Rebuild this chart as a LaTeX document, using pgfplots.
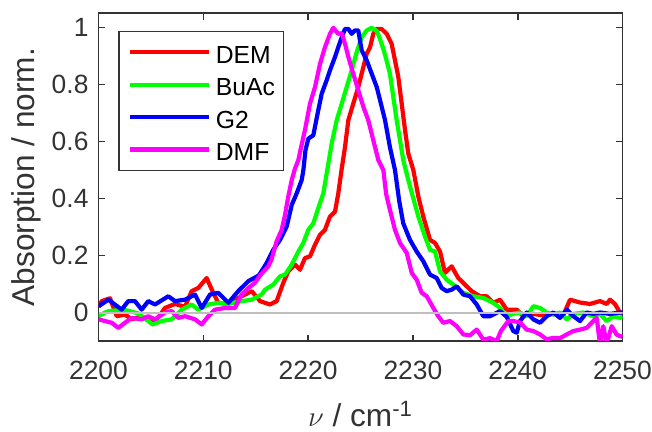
\documentclass[border=0pt]{standalone}
\usepackage{fontspec}
\setmainfont{Liberation Sans}
\usepackage{pgfplots}
\pgfplotsset{compat=1.18}
\usepackage{pgfplotstable}

\pgfplotstableread{
x y
2200.00 0.020
2200.31 0.040
2201.10 0.050
2201.74 -0.013
2202.53 -0.007
2203.17 -0.024
2204.12 -0.013
2205.08 -0.036
2205.71 -0.017
2206.35 0.016
2207.30 0.030
2208.25 0.020
2208.89 0.075
2209.52 0.086
2210.32 0.121
2210.95 0.069
2211.43 0.034
2212.39 0.030
2213.02 0.045
2213.66 0.057
2214.62 0.075
2215.41 0.040
2216.36 0.028
2217.00 0.040
2217.63 0.104
2218.11 0.144
2218.75 0.168
2219.23 0.150
2219.70 0.191
2220.18 0.197
2220.66 0.238
2221.14 0.273
2221.61 0.290
2222.09 0.337
2222.57 0.354
2222.88 0.418
2223.21 0.505
2223.52 0.580
2223.84 0.675
2224.31 0.733
2224.79 0.791
2225.27 0.861
2225.59 0.908
2225.91 0.931
2226.22 0.978
2226.55 0.995
2227.02 0.995
2227.50 0.978
2227.97 0.943
2228.29 0.885
2228.61 0.826
2228.93 0.733
2229.25 0.640
2229.56 0.558
2230.04 0.500
2230.52 0.407
2230.99 0.337
2231.63 0.255
2232.11 0.244
2232.59 0.214
2233.06 0.139
2233.70 0.162
2234.33 0.121
2234.97 0.098
2235.61 0.075
2236.40 0.057
2237.04 0.057
2237.67 0.034
2238.31 0.045
2238.95 0.010
2239.91 0.010
2240.53 -0.013
2241.49 -0.005
2242.44 -0.010
2243.40 -0.005
2244.35 -0.010
2244.99 0.045
2245.95 0.035
2246.90 0.030
2247.85 0.040
2248.49 0.030
2248.81 0.045
2249.28 0.030
2249.75 0.000
2250.00 -0.005
}\dem

\pgfplotstableread{
x y
2200.00 -0.013
2200.62 0.000
2200.99 0.005
2202.40 0.010
2203.77 -0.003
2205.17 -0.042
2206.03 -0.030
2206.98 -0.024
2207.94 0.010
2208.89 0.028
2209.52 0.010
2210.48 0.028
2211.43 0.034
2212.39 0.030
2213.66 0.040
2214.62 0.045
2215.57 0.063
2215.89 0.080
2216.68 0.098
2217.32 0.127
2217.80 0.133
2218.44 0.168
2219.07 0.214
2219.54 0.244
2220.02 0.290
2220.50 0.313
2220.97 0.366
2221.45 0.418
2221.85 0.505
2222.25 0.593
2222.73 0.675
2223.21 0.733
2223.68 0.791
2224.16 0.850
2224.64 0.914
2225.11 0.966
2225.59 0.990
2226.07 0.999
2226.55 0.988
2226.86 0.960
2227.18 0.925
2227.40 0.897
2227.81 0.838
2228.13 0.756
2228.45 0.675
2228.77 0.605
2229.08 0.535
2229.56 0.465
2229.89 0.420
2230.52 0.337
2231.15 0.267
2231.63 0.220
2232.11 0.214
2232.59 0.144
2233.22 0.115
2233.85 0.098
2234.81 0.069
2235.76 0.057
2236.72 0.051
2237.67 0.034
2238.31 0.016
2238.95 -0.015
2239.50 -0.005
2240.22 0.000
2240.86 -0.013
2241.49 0.022
2242.13 0.016
2242.77 0.000
2243.40 -0.007
2244.04 0.000
2244.68 -0.024
2245.31 -0.005
2246.26 0.000
2247.21 -0.013
2247.85 -0.005
2248.49 -0.030
2249.12 -0.013
2249.75 -0.019
2250.00 -0.015
}\buac

\pgfplotstableread{
x y
2200.00 0.022
2200.94 0.045
2201.57 0.028
2202.21 0.010
2202.84 0.040
2203.48 0.040
2204.12 0.010
2204.75 0.040
2205.39 0.028
2206.66 0.057
2207.30 0.040
2208.25 0.045
2209.21 0.063
2209.85 0.016
2210.64 0.063
2211.43 0.069
2212.39 0.034
2213.34 0.075
2214.30 0.110
2215.30 0.130
2216.05 0.174
2216.68 0.220
2217.32 0.255
2217.96 0.302
2218.44 0.378
2218.91 0.418
2219.39 0.465
2219.55 0.500
2219.75 0.570
2220.02 0.610
2220.50 0.622
2220.97 0.710
2221.30 0.768
2221.77 0.815
2222.09 0.850
2222.57 0.897
2222.88 0.931
2223.21 0.966
2223.52 0.995
2223.84 0.995
2224.16 0.978
2224.48 0.990
2224.79 0.990
2225.11 0.920
2225.59 0.885
2226.07 0.838
2226.55 0.791
2226.90 0.740
2227.34 0.675
2227.81 0.580
2228.29 0.500
2228.70 0.390
2229.08 0.313
2229.72 0.255
2230.36 0.214
2230.99 0.180
2231.63 0.133
2232.27 0.121
2232.75 0.086
2233.22 0.075
2233.70 0.080
2234.18 0.092
2234.81 0.063
2235.45 0.057
2236.09 0.028
2236.72 -0.013
2237.36 -0.013
2238.31 0.005
2238.95 -0.015
2239.58 -0.065
2239.91 -0.071
2240.22 -0.030
2240.86 0.000
2241.49 -0.024
2242.13 -0.036
2242.77 -0.013
2243.40 0.000
2244.04 -0.019
2244.68 0.010
2245.31 -0.013
2245.95 -0.030
2246.58 0.000
2247.21 -0.005
2247.85 0.000
2248.81 -0.005
2249.75 0.000
2250.00 0.000
}\gtwo

\pgfplotstableread{
x y
2200.00 -0.024
2200.62 -0.030
2201.26 -0.036
2201.89 -0.054
2202.53 -0.036
2203.17 -0.019
2204.12 -0.024
2204.75 -0.013
2205.39 -0.024
2206.35 0.000
2206.98 0.005
2207.61 -0.019
2208.25 -0.013
2209.21 -0.024
2209.85 -0.042
2210.48 -0.013
2211.12 0.010
2212.07 0.016
2213.02 0.016
2213.66 0.063
2214.29 0.086
2214.93 0.104
2215.41 0.130
2216.20 0.162
2216.50 0.185
2217.00 0.250
2217.48 0.290
2217.80 0.343
2218.11 0.407
2218.44 0.465
2218.75 0.505
2219.07 0.535
2219.30 0.575
2219.70 0.640
2220.18 0.733
2220.66 0.791
2221.14 0.873
2221.61 0.931
2222.09 0.978
2222.40 0.999
2222.88 0.978
2223.21 0.980
2223.52 0.943
2223.84 0.897
2224.31 0.838
2224.79 0.780
2225.27 0.722
2225.74 0.675
2226.22 0.605
2226.70 0.535
2227.18 0.500
2227.45 0.415
2227.81 0.360
2228.29 0.290
2228.77 0.244
2229.41 0.209
2229.89 0.139
2230.36 0.115
2230.84 0.069
2231.32 0.057
2231.95 0.016
2232.42 -0.013
2232.90 -0.036
2233.54 -0.030
2234.18 -0.048
2234.81 -0.077
2235.45 -0.080
2236.09 -0.060
2236.72 -0.095
2237.36 -0.090
2238.00 -0.100
2238.40 -0.065
2239.10 -0.030
2239.58 -0.030
2240.22 -0.035
2240.86 -0.060
2241.49 -0.065
2242.13 -0.077
2242.77 -0.094
2243.40 -0.089
2244.04 -0.090
2244.68 -0.077
2245.31 -0.065
2245.95 -0.060
2246.58 -0.054
2247.21 -0.030
2247.54 -0.019
2247.85 -0.110
2248.17 -0.048
2248.49 -0.110
2248.97 -0.048
2249.43 -0.077
2249.75 -0.083
2250.00 -0.085
}\dmf

\definecolor{axgray}{gray}{0.2}
\definecolor{cRed}{rgb}{1,0,0}
\definecolor{cGreen}{rgb}{0,1,0}
\definecolor{cBlue}{rgb}{0,0,1}
\definecolor{cMag}{rgb}{1,0,1}

\begin{document}
\begin{tikzpicture}
\path[use as bounding box] (-49.25pt,-45.5pt) rectangle (276.75pt,170.5pt);
\begin{axis}[
  scale only axis,
  width=262pt, height=163.85pt,
  xmin=2200, xmax=2250,
  ymin=-0.1, ymax=1.05,
  xtick={2200,2210,2220,2230,2240,2250},
  ytick={0,0.2,0.4,0.6,0.8,1},
  tick align=inside,
  xtick pos=both, ytick pos=both,
  xticklabel pos=bottom, yticklabel pos=left,
  major tick length=3.2pt,
  axis line style={axgray, line width=0.8pt},
  every tick/.style={axgray, line width=0.8pt},
  /pgf/number format/assume math mode=true,
  xticklabel style={font=\fontsize{13.2}{15}\selectfont, text=axgray, yshift=-6.75pt},
  yticklabel style={font=\fontsize{13.2}{15}\selectfont, text=axgray, xshift=-1.5pt},
  /pgf/number format/1000 sep={},
  xlabel={$\nu$ / cm\textsuperscript{-1}},
  ylabel={Absorption / norm.},
  xlabel style={at={(axis description cs:0.5,-0.262)}, anchor=base, font=\fontsize{15.8}{18}\selectfont, text=axgray},
  ylabel style={at={(axis description cs:-0.1212,0.5)}, anchor=base, font=\fontsize{15.8}{18}\selectfont, text=axgray},
  legend cell align=left,
  legend style={
    at={(axis description cs:0.0378,0.9469)}, anchor=north west,
    draw=axgray, line width=0.8pt, fill=white,
    font=\fontsize{12.35}{14}\selectfont, text=black,
    inner xsep=4.2pt, inner ysep=5pt,
    row sep=5.3pt, column sep=2.6pt,
    nodes={inner sep=0pt, text height=10.9pt, text depth=0pt},
  },
  legend image code/.code={\draw[#1, line width=2.1pt] (0pt,0pt) -- (39.5pt,0pt);},
  every axis plot/.append style={line width=2.1pt, line join=round},
]
\addplot[cRed] table {\dem};
\addlegendentry{DEM}
\addplot[cGreen] table {\buac};
\addlegendentry{BuAc}
\addplot[cBlue] table {\gtwo};
\addlegendentry{G2}
\addplot[cMag] table {\dmf};
\addlegendentry{DMF}
\addplot[black!25, line width=1pt, forget plot] coordinates {(2200,0) (2250,0)};
\end{axis}
\end{tikzpicture}
\end{document}
